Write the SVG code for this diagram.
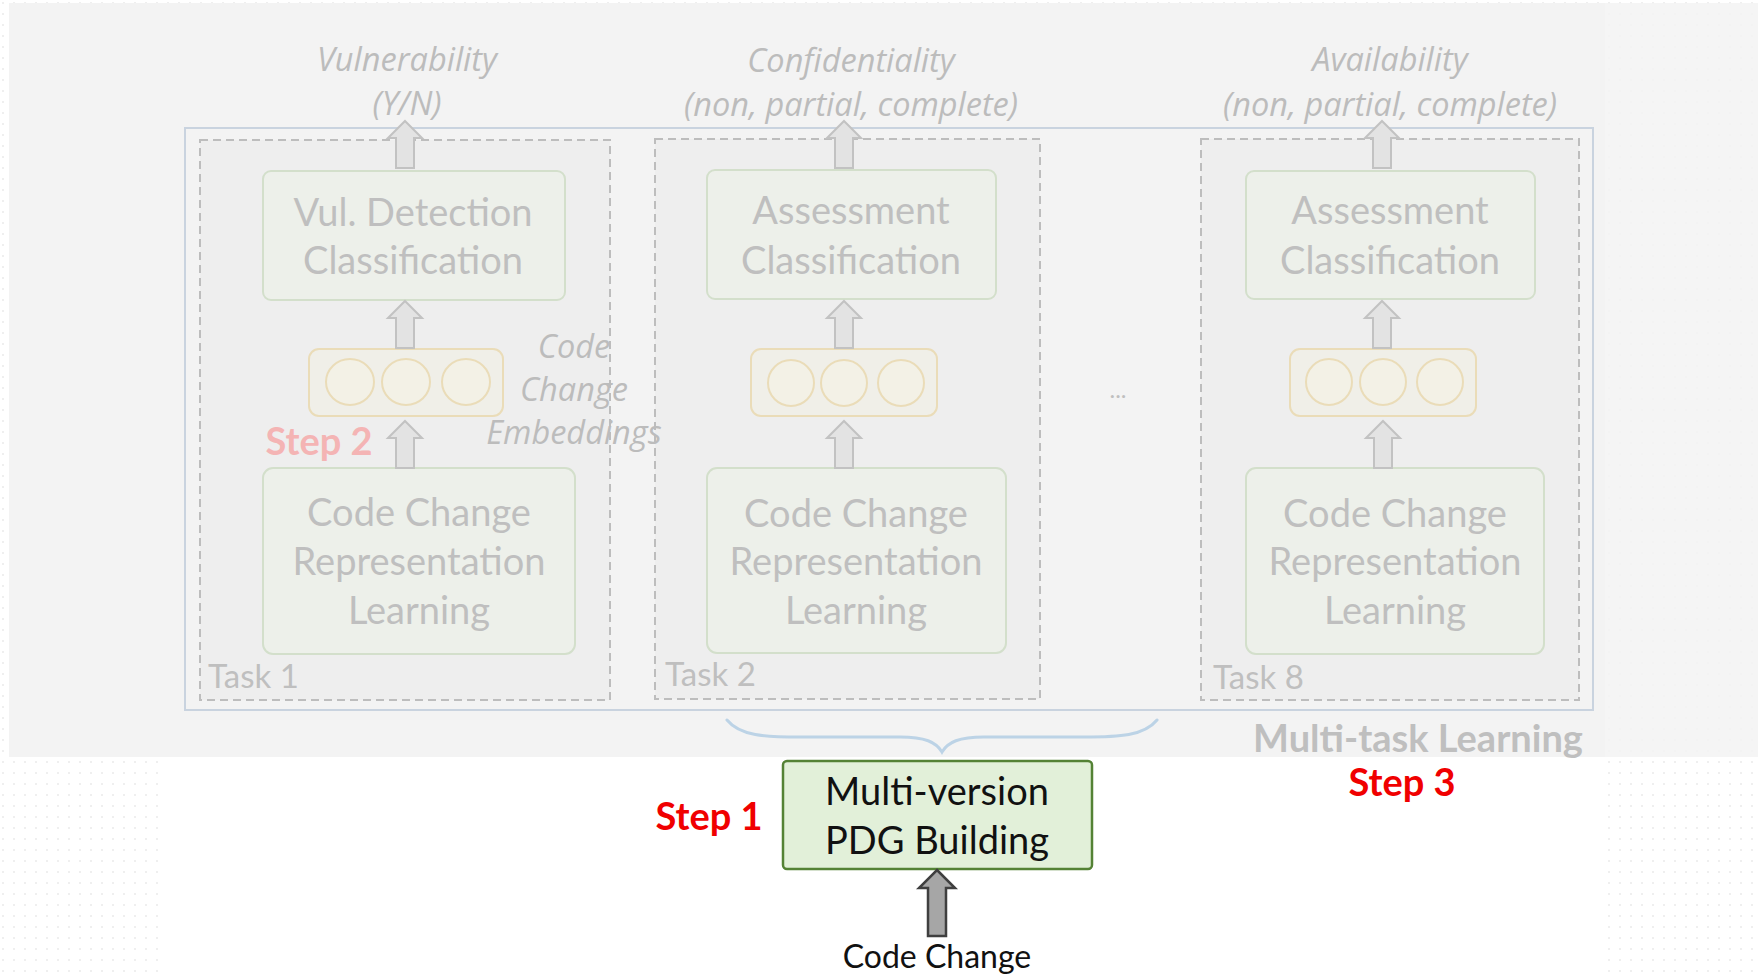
<svg xmlns="http://www.w3.org/2000/svg" width="1758" height="974" viewBox="0 0 1758 974">
  <defs>
    <pattern id="dots" x="0" y="0" width="11" height="11" patternUnits="userSpaceOnUse">
      <circle cx="3" cy="3" r="1" fill="#e4e4e4"/>
    </pattern>
    <style>
      .panel { fill: #f3f3f3; }
      .outer { fill: none; stroke: #c9d3df; stroke-width: 2; }
      .task { fill: #eeeeee; stroke: #bdbdbd; stroke-width: 2; stroke-dasharray: 8 5; }
      .fbox { fill: #edf0ea; stroke: #d3dfcb; stroke-width: 2; }
      .emb { fill: #f0efe8; stroke: #eadcb8; stroke-width: 2; }
      .cell { fill: #f3f1e6; stroke: #eadcb8; stroke-width: 2; }
      .farrow { fill: #e3e3e3; stroke: #c2c2c2; stroke-width: 2; stroke-linejoin: miter; }
      .brace { fill: none; stroke: #bcd3e6; stroke-width: 3; stroke-linecap: round; }
      .t { font-family: Lato, "Open Sans", "Liberation Sans", sans-serif; text-anchor: middle; }
      .faint { fill: #bfbfbf; }
      .ital { font-family: "Open Sans", "Noto Sans", Lato, sans-serif; fill: #bcbcbc; font-style: italic; font-size: 32.5px; }
      .boxtxt { font-size: 38px; }
      .tasklbl { font-size: 33px; text-anchor: start; }
      .step { font-weight: bold; font-size: 38px; }
      .red { fill: #f00000; }
      .pink { fill: #f4b4b4; }
    </style>
  </defs>

  <!-- page background -->
  <rect x="0" y="0" width="1758" height="974" fill="#ffffff"/>
  <rect x="0" y="0" width="1758" height="974" fill="url(#dots)" opacity="0.8"/>
  <rect class="panel" x="9" y="3" width="1596" height="754"/>
  <rect class="panel" x="1605" y="3" width="153" height="754" opacity="0.85"/>
  <rect x="160" y="757" width="1445" height="217" fill="#ffffff"/>

  <!-- multi-task learning frame -->
  <g id="multi-task-frame">
    <rect class="outer" x="185" y="128" width="1408" height="582"/>
    <text class="t step faint" x="1418" y="752" font-size="37">Multi-task Learning</text>
  </g>

  <!-- task containers -->
  <g id="task1">
    <rect class="task" x="200" y="140" width="410" height="560"/>
    <text class="t faint tasklbl" x="208" y="688">Task 1</text>
  </g>
  <g id="task2">
    <rect class="task" x="655" y="139" width="385" height="560"/>
    <text class="t faint tasklbl" x="665" y="686">Task 2</text>
  </g>
  <g id="task8">
    <rect class="task" x="1201" y="139" width="378" height="561"/>
    <text class="t faint tasklbl" x="1213" y="689">Task 8</text>
  </g>

  <!-- output labels -->
  <g id="out-vulnerability">
    <text class="t ital" x="407" y="71">Vulnerability</text>
    <text class="t ital" x="407" y="115">(Y/N)</text>
  </g>
  <g id="out-confidentiality">
    <text class="t ital" x="851" y="72">Confidentiality</text>
    <text class="t ital" x="851" y="116">(non, partial, complete)</text>
  </g>
  <g id="out-availability">
    <text class="t ital" x="1390" y="71">Availability</text>
    <text class="t ital" x="1390" y="116">(non, partial, complete)</text>
  </g>

  <!-- classification heads -->
  <g id="vul-detection">
    <rect class="fbox" x="263" y="171" width="302" height="129" rx="8"/>
    <text class="t faint boxtxt" x="413" y="226">Vul. Detection</text>
    <text class="t faint boxtxt" x="413" y="274">Classification</text>
  </g>
  <g id="assessment2">
    <rect class="fbox" x="707" y="170" width="289" height="129" rx="8"/>
    <text class="t faint boxtxt" x="851" y="224">Assessment</text>
    <text class="t faint boxtxt" x="851" y="274">Classification</text>
  </g>
  <g id="assessment8">
    <rect class="fbox" x="1246" y="171" width="289" height="128" rx="8"/>
    <text class="t faint boxtxt" x="1390" y="224">Assessment</text>
    <text class="t faint boxtxt" x="1390" y="274">Classification</text>
  </g>

  <!-- code change embeddings -->
  <g id="embedding1">
    <rect class="emb" x="309" y="349" width="194" height="67" rx="10"/>
    <ellipse class="cell" cx="350" cy="382" rx="24" ry="23"/>
    <ellipse class="cell" cx="406" cy="382" rx="24" ry="23"/>
    <ellipse class="cell" cx="466" cy="382" rx="24" ry="23"/>
  </g>
  <g id="embedding2">
    <rect class="emb" x="751" y="349" width="186" height="67" rx="10"/>
    <ellipse class="cell" cx="791" cy="383" rx="23" ry="23"/>
    <ellipse class="cell" cx="844" cy="383" rx="23" ry="23"/>
    <ellipse class="cell" cx="901" cy="383" rx="23" ry="23"/>
  </g>
  <g id="embedding8">
    <rect class="emb" x="1290" y="349" width="186" height="67" rx="10"/>
    <ellipse class="cell" cx="1329" cy="382" rx="23" ry="23"/>
    <ellipse class="cell" cx="1383" cy="382" rx="23" ry="23"/>
    <ellipse class="cell" cx="1440" cy="382" rx="23" ry="23"/>
  </g>
  <g id="embedding-label">
    <text class="t ital" x="574" y="358">Code</text>
    <text class="t ital" x="574" y="401">Change</text>
    <text class="t ital" x="574" y="444">Embeddings</text>
  </g>
  <g id="ellipsis">
    <text class="t faint" x="1118" y="398" font-size="24">...</text>
  </g>

  <!-- representation learning -->
  <g id="repr1">
    <rect class="fbox" x="263" y="468" width="312" height="186" rx="10"/>
    <text class="t faint boxtxt" x="419" y="526">Code Change</text>
    <text class="t faint boxtxt" x="419" y="575">Representation</text>
    <text class="t faint boxtxt" x="419" y="624">Learning</text>
  </g>
  <g id="repr2">
    <rect class="fbox" x="707" y="468" width="299" height="185" rx="10"/>
    <text class="t faint boxtxt" x="856" y="527">Code Change</text>
    <text class="t faint boxtxt" x="856" y="575">Representation</text>
    <text class="t faint boxtxt" x="856" y="624">Learning</text>
  </g>
  <g id="repr8">
    <rect class="fbox" x="1246" y="468" width="298" height="186" rx="10"/>
    <text class="t faint boxtxt" x="1395" y="527">Code Change</text>
    <text class="t faint boxtxt" x="1395" y="575">Representation</text>
    <text class="t faint boxtxt" x="1395" y="624">Learning</text>
  </g>

  <!-- PDG building -->
  <g id="pdg-building">
    <rect x="783" y="761" width="309" height="108" rx="4" fill="#e2f0d9" stroke="#548235" stroke-width="2.5"/>
    <text class="t" x="937" y="805" font-size="38" fill="#111111">Multi-version</text>
    <text class="t" x="937" y="854" font-size="38" fill="#111111">PDG Building</text>
  </g>
  <g id="code-change-input">
    <text class="t" x="937" y="968" font-size="32" fill="#111111">Code Change</text>
  </g>

  <!-- step labels -->
  <g id="step-labels">
    <text class="t step pink" x="319" y="455">Step 2</text>
    <text class="t step red" x="709" y="830">Step 1</text>
    <text class="t step red" x="1402" y="796">Step 3</text>
  </g>

  <!-- connectors -->
  <g id="connectors">
    <path class="farrow" d="M405,121 L422,138 L414,138 L414,168 L396,168 L396,138 L388,138 Z"/>
    <path class="farrow" d="M405,301 L422,318 L414,318 L414,348 L396,348 L396,318 L388,318 Z"/>
    <path class="farrow" d="M405,421 L422,438 L414,438 L414,468 L396,468 L396,438 L388,438 Z"/>

    <path class="farrow" d="M844,121 L861,138 L853,138 L853,168 L835,168 L835,138 L827,138 Z"/>
    <path class="farrow" d="M844,301 L861,318 L853,318 L853,348 L835,348 L835,318 L827,318 Z"/>
    <path class="farrow" d="M844,421 L861,438 L853,438 L853,468 L835,468 L835,438 L827,438 Z"/>

    <path class="farrow" d="M1382,121 L1399,138 L1391,138 L1391,168 L1373,168 L1373,138 L1365,138 Z"/>
    <path class="farrow" d="M1382,301 L1399,318 L1391,318 L1391,348 L1373,348 L1373,318 L1365,318 Z"/>
    <path class="farrow" d="M1383,421 L1400,438 L1392,438 L1392,468 L1374,468 L1374,438 L1366,438 Z"/>

    <path class="brace" d="M727,720 C740,736 765,737 800,737 L900,737 C925,737 936,742 942,752 C948,742 959,737 984,737 L1084,737 C1119,737 1144,736 1157,720"/>

    <path d="M937,870 L955,888 L946,888 L946,936 L928,936 L928,888 L919,888 Z" fill="#a6a6a6" stroke="#3f3f3f" stroke-width="2.5" stroke-linejoin="miter"/>
  </g>
</svg>
